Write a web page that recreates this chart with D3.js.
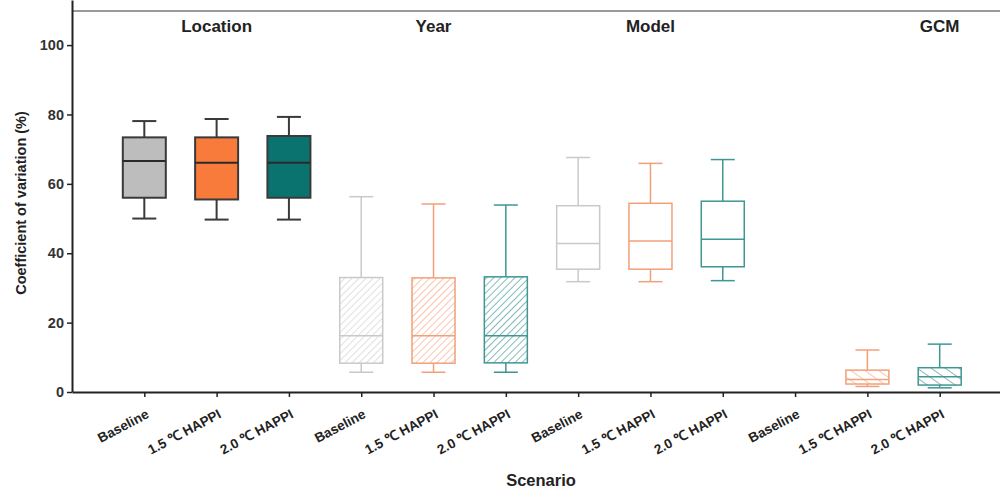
<!DOCTYPE html>
<html>
<head>
<meta charset="utf-8">
<script src="https://cdn.jsdelivr.net/npm/d3@7"></script>
<style>
  body { margin: 0; background: #fff; }
  text { font-family: "Liberation Sans", Arial, sans-serif; }
</style>
</head>
<body>
<div id="chart"></div>
<script>
// Groups and scenarios
var groups = ["Location", "Year", "Model", "GCM"];
var scenarios = ["Baseline", "1.5 \u2103 HAPPI", "2.0 \u2103 HAPPI"];

// Box statistics, 12 boxes (group x scenario); GCM Baseline has no box
var whiskLow = [50.0, 49.7, 49.7,  5.7,  5.7,  5.7, 31.8, 31.8, 32.1, null, 1.6, 1.2];
var q1       = [56.0, 55.5, 56.0,  8.3,  8.3,  8.4, 35.4, 35.4, 36.1, null, 2.3, 2.0];
var median   = [66.6, 66.1, 66.1, 16.2, 16.2, 16.2, 42.8, 43.5, 44.0, null, 3.6, 4.4];
var q3       = [73.4, 73.4, 73.8, 33.0, 32.9, 33.2, 53.7, 54.4, 55.0, null, 6.3, 7.0];
var whiskHigh= [78.1, 78.7, 79.3, 56.3, 54.2, 53.9, 67.6, 65.9, 67.0, null, 12.1, 13.8];

var yTicks = [0, 20, 40, 60, 80, 100];

var width = 1000, height = 489;

var svg = d3.select("#chart").append("svg")
    .attr("width", width)
    .attr("height", height);

// scales
var x = d3.scaleLinear().domain([-1, 12]).range([72, 1012]);
var y = d3.scaleLinear().domain([0, 113]).range([392, 0]);

// colours per scenario
var solidFill = ["#bdbdbd", "#f97b3b", "#0b736f"];
var lineCol = ["#c9c9c9", "#f2a07a", "#3f9692"];
var hatchCol = ["#cfcfcf", "#f5a783", "#3f9692"];

// hatch patterns
var defs = svg.append("defs");
scenarios.forEach(function(s, i) {
    defs.append("pattern")
        .attr("id", "hatchA" + i)
        .attr("patternUnits", "userSpaceOnUse")
        .attr("width", 5).attr("height", 5)
        .attr("patternTransform", "rotate(45)")
        .append("line")
        .attr("x1", 0).attr("y1", 0).attr("x2", 0).attr("y2", 5)
        .attr("stroke", hatchCol[i]).attr("stroke-width", 1.3);
    defs.append("pattern")
        .attr("id", "hatchB" + i)
        .attr("patternUnits", "userSpaceOnUse")
        .attr("width", 8).attr("height", 8)
        .attr("patternTransform", "rotate(-55)")
        .append("line")
        .attr("x1", 0).attr("y1", 0).attr("x2", 0).attr("y2", 8)
        .attr("stroke", hatchCol[i]).attr("stroke-width", 1.3);
});

// thin frame line at the top
svg.append("line")
    .attr("x1", x(-1)).attr("x2", width)
    .attr("y1", 11).attr("y2", 11)
    .attr("stroke", "#9a9a9a").attr("stroke-width", 2);

// axes
var xAxis = svg.append("g")
    .attr("transform", "translate(0," + y(0) + ")")
    .call(d3.axisBottom(x)
        .tickValues(d3.range(12))
        .tickSize(5)
        .tickSizeOuter(0)
        .tickFormat(function(d) { return scenarios[d % 3]; }));
xAxis.select(".domain").attr("stroke", "#222").attr("stroke-width", 2);
xAxis.selectAll(".tick line").attr("stroke", "#222").attr("stroke-width", 1.5);
xAxis.selectAll(".tick text")
    .attr("font-size", 13.5)
    .attr("font-weight", "bold")
    .attr("fill", "#222")
    .attr("text-anchor", "end")
    .attr("x", 0).attr("y", 0).attr("dy", 0)
    .attr("transform", "translate(5,25) rotate(-28)");

var yAxis = svg.append("g")
    .attr("transform", "translate(" + x(-1) + ",0)")
    .call(d3.axisLeft(y).tickValues(yTicks).tickSize(5).tickSizeOuter(0));
yAxis.select(".domain").attr("stroke", "#222").attr("stroke-width", 2);
yAxis.selectAll(".tick line").attr("stroke", "#222").attr("stroke-width", 1.5);
yAxis.selectAll(".tick text")
    .attr("font-size", 14.5)
    .attr("font-weight", "bold")
    .attr("fill", "#333")
    .attr("x", -8);

// boxes
var boxW = 43, capW = 24;
d3.range(12).forEach(function(i) {
    if (whiskLow[i] === null) return;
    var g = Math.floor(i / 3), s = i % 3;
    var cx = x(i);
    var stroke, fill, sw, medStroke;
    if (g === 0) {
        stroke = "#3a3a3a"; fill = solidFill[s]; sw = 2; medStroke = "#2a2a2a";
    } else if (g === 1) {
        stroke = lineCol[s]; fill = "url(#hatchA" + s + ")"; sw = 1.5; medStroke = lineCol[s];
    } else if (g === 2) {
        stroke = lineCol[s]; fill = "#fff"; sw = 1.5; medStroke = lineCol[s];
    } else {
        stroke = lineCol[s]; fill = "url(#hatchB" + s + ")"; sw = 1.5; medStroke = lineCol[s];
    }
    var bg = svg.append("g");
    // whiskers
    bg.append("line").attr("x1", cx).attr("x2", cx)
        .attr("y1", y(whiskHigh[i])).attr("y2", y(q3[i]))
        .attr("stroke", stroke).attr("stroke-width", sw);
    bg.append("line").attr("x1", cx).attr("x2", cx)
        .attr("y1", y(q1[i])).attr("y2", y(whiskLow[i]))
        .attr("stroke", stroke).attr("stroke-width", sw);
    bg.append("line").attr("x1", cx - capW / 2).attr("x2", cx + capW / 2)
        .attr("y1", y(whiskHigh[i])).attr("y2", y(whiskHigh[i]))
        .attr("stroke", stroke).attr("stroke-width", sw);
    bg.append("line").attr("x1", cx - capW / 2).attr("x2", cx + capW / 2)
        .attr("y1", y(whiskLow[i])).attr("y2", y(whiskLow[i]))
        .attr("stroke", stroke).attr("stroke-width", sw);
    // box
    bg.append("rect")
        .attr("x", cx - boxW / 2).attr("width", boxW)
        .attr("y", y(q3[i])).attr("height", y(q1[i]) - y(q3[i]))
        .attr("fill", fill)
        .attr("stroke", stroke).attr("stroke-width", sw);
    // median
    bg.append("line").attr("x1", cx - boxW / 2).attr("x2", cx + boxW / 2)
        .attr("y1", y(median[i])).attr("y2", y(median[i]))
        .attr("stroke", medStroke).attr("stroke-width", sw);
});

// group titles
var groupPos = [1, 4, 7, 11];
svg.selectAll(".grp").data(groups).enter().append("text")
    .attr("x", function(d, i) { return x(groupPos[i]); })
    .attr("y", 32)
    .attr("text-anchor", "middle")
    .attr("font-size", 17)
    .attr("font-weight", "bold")
    .attr("fill", "#222")
    .text(function(d) { return d; });

// axis titles
svg.append("text")
    .attr("transform", "translate(26,203) rotate(-90)")
    .attr("text-anchor", "middle")
    .attr("font-size", 14.5)
    .attr("font-weight", "bold")
    .attr("fill", "#222")
    .text("Coefficient of variation (%)");

svg.append("text")
    .attr("x", 541)
    .attr("y", 486)
    .attr("text-anchor", "middle")
    .attr("font-size", 16.5)
    .attr("font-weight", "bold")
    .attr("fill", "#222")
    .text("Scenario");
</script>
</body>
</html>
